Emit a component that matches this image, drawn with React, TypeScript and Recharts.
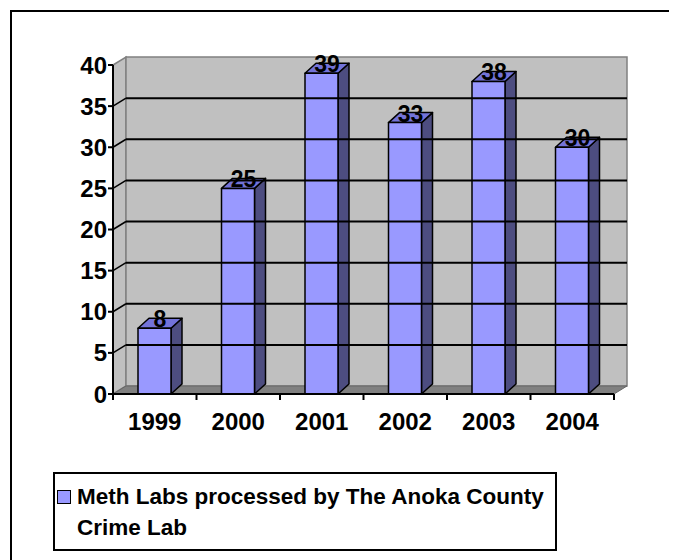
import { BarChart, Bar, XAxis, YAxis, ReferenceArea, ReferenceLine, LabelList, Legend } from 'recharts';

const YEARS = ['1999', '2000', '2001', '2002', '2003', '2004'];
const METH_LABS = [8, 25, 39, 33, 38, 30];
const Y_TICKS = [0, 5, 10, 15, 20, 25, 30, 35, 40];
const INNER_GRID = [5, 10, 15, 20, 25, 30, 35];
const SERIES_NAME = 'Meth Labs processed by The Anoka County Crime Lab';

const data = YEARS.map((year, i) => ({ year, labs: METH_LABS[i] }));

const FONT = '"Liberation Sans", Arial, sans-serif';
// depth of the walls and of the bars (fake 3d)
const DX = 13;
const DY = -8;
const BDX = 11;
const BDY = -10;

const Walls = (props: any) => {
  const { x, y, width, height } = props;
  const r = x + width;
  const b = y + height;
  return (
    <g>
      <polygon
        points={`${x},${y} ${x + DX},${y + DY} ${x + DX},${b + DY} ${x},${b}`}
        fill="#c0c0c0"
        stroke="#808080"
        strokeWidth={1.5}
      />
      <rect x={x + DX} y={y + DY} width={width} height={height} fill="#c0c0c0" stroke="#808080" strokeWidth={1.5} />
      <polygon
        points={`${x},${b} ${x + DX},${b + DY} ${r + DX},${b + DY} ${r},${b}`}
        fill="#808080"
        stroke="#666"
        strokeWidth={1}
      />
    </g>
  );
};

const GridLine = (props: any) => {
  const { x1, y1, x2 } = props;
  return (
    <g>
      <line x1={x1} y1={y1} x2={x1 + DX} y2={y1 + DY} stroke="#000" strokeWidth={1.5} />
      <line x1={x1 + DX} y1={y1 + DY} x2={x2 + DX} y2={y1 + DY} stroke="#000" strokeWidth={2} />
    </g>
  );
};

const Bar3D = (props: any) => {
  const { x, y, width, height } = props;
  const r = x + width;
  const b = y + height;
  return (
    <g stroke="#000" strokeWidth={1.5} strokeLinejoin="round">
      <polygon points={`${r},${y} ${r + BDX},${y + BDY} ${r + BDX},${b + BDY} ${r},${b}`} fill="#4d4d80" />
      <polygon points={`${x},${y} ${x + BDX},${y + BDY} ${r + BDX},${y + BDY} ${r},${y}`} fill="#7373d9" />
      <rect x={x} y={y} width={width} height={height} fill="#9999ff" />
    </g>
  );
};

const ValueLabel = (props: any) => {
  const { x, y, width, value } = props;
  return (
    <text
      x={x + width / 2 + BDX / 2}
      y={y - 1}
      textAnchor="middle"
      fontFamily={FONT}
      fontWeight="bold"
      fontSize={23}
      fill="#000"
    >
      {value}
    </text>
  );
};

const YearTick = (props: any) => {
  const { x, y, payload, index, visibleTicksCount } = props;
  const half = payload && payload.offset ? payload.offset : 41.75;
  return (
    <g>
      <line x1={x - half} y1={y} x2={x - half} y2={y + 6} stroke="#000" strokeWidth={2} />
      {index === visibleTicksCount - 1 && (
        <line x1={x + half} y1={y} x2={x + half} y2={y + 6} stroke="#000" strokeWidth={2} />
      )}
      <text x={x} y={y + 28} dy="0.35em" textAnchor="middle" fontFamily={FONT} fontWeight="bold" fontSize={24} fill="#000">
        {payload.value}
      </text>
    </g>
  );
};

const LegendBox = () => (
  <div
    style={{
      position: 'relative',
      width: 504,
      height: 79,
      boxSizing: 'border-box',
      border: '2px solid #000',
      background: '#fff',
      fontFamily: FONT,
      fontWeight: 'bold',
      fontSize: 22.5,
      lineHeight: '31px',
      color: '#000',
      textAlign: 'left',
      whiteSpace: 'nowrap',
    }}
  >
    <span
      style={{
        position: 'absolute',
        left: 2,
        top: 16,
        width: 14,
        height: 14,
        boxSizing: 'border-box',
        background: '#9999ff',
        border: '1.5px solid #000',
      }}
    />
    <div style={{ position: 'absolute', left: 22, top: 7 }}>
      Meth Labs processed by The Anoka County
      <br />
      Crime Lab
    </div>
  </div>
);

export default function App() {
  return (
    <div style={{ position: 'relative', width: 669, height: 552, overflow: 'hidden' }}>
      <div
        style={{
          position: 'absolute',
          left: 2,
          top: 2,
          width: 800,
          height: 800,
          borderTop: '2px solid #000',
          borderLeft: '2px solid #000',
        }}
      />
      <div style={{ position: 'absolute', left: 0, top: 0 }}>
        <BarChart
          width={669}
          height={552}
          data={data}
          margin={{ top: 57, right: 63, bottom: 126, left: 45 }}
          barSize={33}
        >
          <ReferenceArea y1={0} y2={40} shape={<Walls />} ifOverflow="visible" />
          {INNER_GRID.map((v) => (
            <ReferenceLine key={v} y={v} shape={GridLine} ifOverflow="visible" />
          ))}
          <XAxis
            dataKey="year"
            interval={0}
            height={40}
            tickSize={0}
            tickMargin={0}
            tickLine={false}
            axisLine={{ stroke: '#000', strokeWidth: 2 }}
            tick={<YearTick />}
          />
          <YAxis
            domain={[0, 40]}
            ticks={Y_TICKS}
            width={60}
            tickSize={5}
            tickMargin={1}
            axisLine={{ stroke: '#000', strokeWidth: 2 }}
            tickLine={{ stroke: '#000', strokeWidth: 2 }}
            tick={{ fill: '#000', fontSize: 24, fontWeight: 'bold', fontFamily: FONT }}
          />
          <Bar dataKey="labs" name={SERIES_NAME} shape={<Bar3D />} isAnimationActive={false}>
            <LabelList dataKey="labs" content={<ValueLabel />} />
          </Bar>
          <Legend
            layout="horizontal"
            verticalAlign="middle"
            align="center"
            content={<LegendBox />}
            wrapperStyle={{ left: 45, top: 464, width: 504, height: 79, bottom: 'auto', right: 'auto' }}
          />
        </BarChart>
      </div>
    </div>
  );
}
